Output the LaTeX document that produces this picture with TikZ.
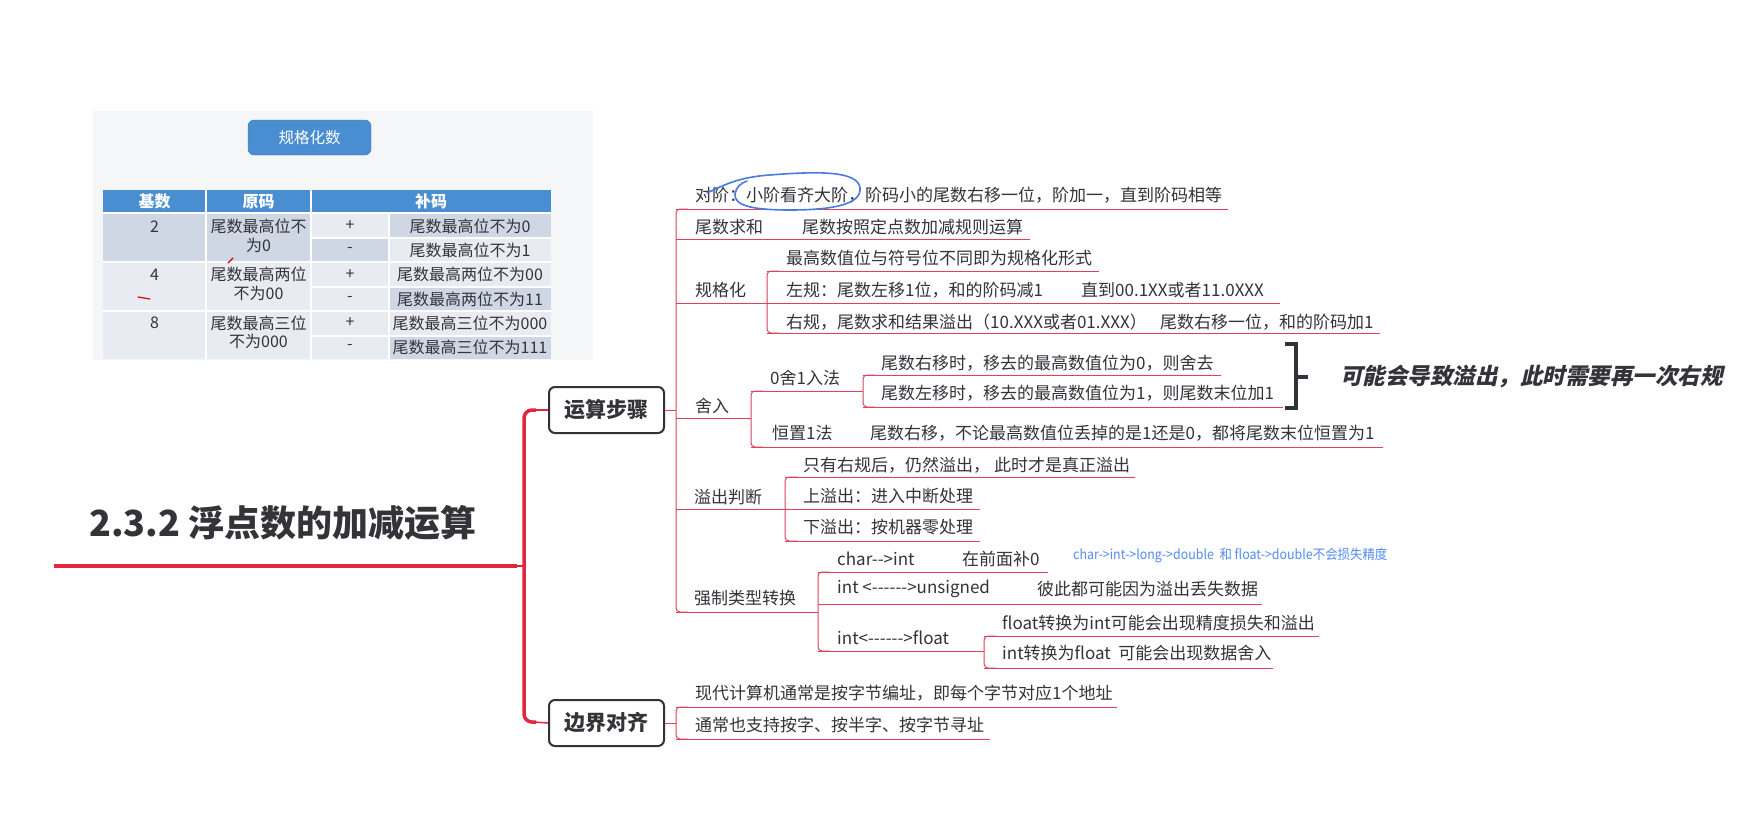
\documentclass[tikz,border=0pt]{standalone}
\usepackage{graphicx}
\usepackage{fontspec}
\setmainfont{Noto Sans CJK SC}[Ligatures=TeXOff]
\newfontfamily\slantcjk{Noto Sans CJK SC}[UprightFeatures={FakeSlant=0.22},BoldFeatures={FakeSlant=0.22}]
\definecolor{redm}{RGB}{226,38,64}
\definecolor{redl}{RGB}{222,64,94}
\definecolor{ink}{RGB}{51,51,56}
\definecolor{tblue}{RGB}{72,142,208}
\definecolor{tbord}{RGB}{58,122,186}
\definecolor{cdark}{RGB}{207,215,229}
\definecolor{clight}{RGB}{232,236,242}
\definecolor{panel}{RGB}{245,246,248}
\definecolor{notec}{RGB}{84,140,240}
\definecolor{penblue}{RGB}{72,122,226}
\definecolor{boxc}{RGB}{50,50,58}
\tikzset{
  txt/.style={anchor=west, inner sep=0pt, text=ink, font=\fontsize{17}{20}\selectfont},
  rl/.style={draw=redl, line width=1pt},
  topicbox/.style={draw=boxc, line width=2pt, rounded corners=6pt, fill=white,
    minimum width=115pt, minimum height=46pt, inner sep=0pt, text=ink,
    font=\fontsize{21}{24}\selectfont\bfseries},
  tcell/.style={anchor=center, inner sep=0pt, align=center, text=ink,
    font=\fontsize{16}{18.5}\selectfont},
  thead/.style={anchor=center, inner sep=0pt, text=white,
    font=\fontsize{16}{18}\selectfont\bfseries},
  grid/.style={draw=white, line width=1.5pt},
}
\begin{document}
\begin{tikzpicture}[x=1pt,y=-1pt]
\useasboundingbox (0,0) rectangle (1754,817);
\fill[white] (0,0) rectangle (1754,817);

% ---------- table picture ----------
\fill[panel] (93,111) rectangle (593,360);
\node[draw=tbord, fill=tblue, rounded corners=6pt, minimum width=123pt, minimum height=35pt,
  inner sep=0pt, text=white, font=\fontsize{15.5}{18}\selectfont] (btn) at (309.5,137.5) {规格化数};
\fill[tblue] (103,190) rectangle (551,213);
% body fills
\fill[cdark] (103,213) rectangle (311,262);
\fill[clight] (103,262) rectangle (311,359);
\fill[clight] (311,213) rectangle (389,238);
\fill[cdark] (311,238) rectangle (389,262);
\fill[clight] (311,262) rectangle (389,359);
\fill[cdark] (389,213) rectangle (551,238);
\fill[clight] (389,238) rectangle (551,287);
\fill[cdark] (389,287) rectangle (551,311);
\fill[clight] (389,311) rectangle (551,336);
\fill[cdark] (389,336) rectangle (551,359);
% grid
\draw[grid] (206,190) -- (206,359);
\draw[grid] (311,190) -- (311,359);
\draw[grid] (389,213) -- (389,359);
\draw[grid] (103,213) -- (551,213);
\draw[grid] (103,262) -- (551,262);
\draw[grid] (103,311) -- (551,311);
\draw[grid] (311,238) -- (551,238);
\draw[grid] (311,287) -- (551,287);
\draw[grid] (311,336) -- (551,336);
% header text
\node[thead] (h1) at (154.5,201.5) {基数};
\node[thead] (h2) at (258.5,201.5) {原码};
\node[thead] (h3) at (431,201.5) {补码};
% body text
\node[tcell] (r2) at (154.5,227) {2};
\node[tcell] (r4) at (154.5,275) {4};
\node[tcell] (r8) at (154.5,323) {8};
\node[tcell] (y2) at (258.5,236) {尾数最高位不\\为0};
\node[tcell] (y4) at (258.5,284) {尾数最高两位\\不为00};
\node[tcell] (y8) at (258.5,332.5) {尾数最高三位\\不为000};
\node[tcell] (s1) at (350,226) {+};
\node[tcell] (s2) at (350,250) {-};
\node[tcell] (s3) at (350,274.5) {+};
\node[tcell] (s4) at (350,299) {-};
\node[tcell] (s5) at (350,323) {+};
\node[tcell] (s6) at (350,347) {-};
\node[tcell] (b1) at (470,226) {尾数最高位不为0};
\node[tcell] (b2) at (470,250) {尾数最高位不为1};
\node[tcell] (b3) at (470,274.5) {尾数最高两位不为00};
\node[tcell] (b4) at (470,299) {尾数最高两位不为11};
\node[tcell] (b5) at (470,323) {尾数最高三位不为000};
\node[tcell] (b6) at (470,347) {尾数最高三位不为111};
% red pen marks
\draw[red!80!black, line width=1.1pt, line cap=round] (233,258) -- (228,263);
\draw[red!85!black, line width=1.2pt, line cap=round] (138,297) -- (150,299);

% ---------- central topic ----------
\node[anchor=west, inner sep=0pt, text=ink, font=\fontsize{36}{40}\selectfont\bfseries] (title) at (89,523) {2.3.2 浮点数的加减运算};
\coordinate (tl0) at (54,566);
\coordinate (tl1) at (517,566);
\coordinate (barj) at (524,566);
\draw[redm, line width=4.5pt] (tl0) -- (tl1);
\draw[redm, line width=1.5pt] (tl1) -- (barj);
\draw[redm, line width=3.5pt, rounded corners=8pt] (536,410) -- (524,410) -- (524,722) -- (536,722);

\node[topicbox] (ops) at (606.5,410) {运算步骤};
\node[topicbox] (bnd) at (606.5,723) {边界对齐};
\draw[redm, line width=1.5pt] (534,410) -- (ops.west);
\draw[redm, line width=1.5pt] (534,722) -- (bnd.west);

% ---------- 运算步骤 branch ----------
\coordinate (opsj) at (676,410);
\draw[rl] (ops.east) -- (opsj);
\draw[rl, rounded corners=4pt] (688,209) -- (676,209) -- (676,612) -- (688,612);

% 对阶
\node[txt] (dj) at (695,195) {对阶：小阶看齐大阶，阶码小的尾数右移一位，阶加一，直到阶码相等};
\draw[rl] (676,209) -- (1228,209);
\draw[penblue, line width=1.6pt, line cap=round, line join=round]
  (707,193) .. controls (722,186) and (738,177) .. (770,175)
  .. controls (820,171) and (858,171) .. (860,188)
  .. controls (862,205) and (830,210) .. (790,210)
  .. controls (750,210) and (734,205) .. (735,194)
  .. controls (736,187) and (741,183) .. (747,181);

% 尾数求和
\node[txt] (wsqh) at (695,227) {尾数求和};
\node[txt] (wsqh1) at (802,227) {尾数按照定点数加减规则运算};
\draw[rl] (676,239) -- (1030,239);

% 规格化
\node[txt] (ggh) at (695,290) {规格化};
\draw[rl] (676,303) -- (767,303);
\draw[rl, rounded corners=4pt] (779,271) -- (767,271) -- (767,333) -- (779,333);
\node[txt] (ggh1) at (786,258) {最高数值位与符号位不同即为规格化形式};
\draw[rl] (767,271) -- (1099,271);
\node[txt] (ggh2) at (786,290) {左规：尾数左移1位，和的阶码减1};
\node[txt] (ggh2a) at (1081,290) {直到00.1XX或者11.0XXX};
\draw[rl] (767,303) -- (1280,303);
\node[txt] (ggh3) at (786,322) {右规，尾数求和结果溢出（10.XXX或者01.XXX）};
\node[txt] (ggh3a) at (1160,322) {尾数右移一位，和的阶码加1};
\draw[rl] (767,333) -- (1380,333);

% 舍入
\node[txt] (sr) at (695,406) {舍入};
\draw[rl] (676,418) -- (751,418);
\draw[rl, rounded corners=4pt] (763,391) -- (751,391) -- (751,447) -- (763,447);
\node[txt] (sr1) at (770,378) {0舍1入法};
\draw[rl] (751,391) -- (863,391);
\draw[rl, rounded corners=4pt] (875,375) -- (863,375) -- (863,407) -- (875,407);
\node[txt] (sr1a) at (881,363) {尾数右移时，移去的最高数值位为0，则舍去};
\draw[rl] (863,375) -- (1221,375);
\node[txt] (sr1b) at (881,393) {尾数左移时，移去的最高数值位为1，则尾数末位加1};
\draw[rl] (863,407) -- (1283,407);
\node[txt] (sr2) at (772,433) {恒置1法};
\node[txt] (sr2a) at (870,433) {尾数右移，不论最高数值位丢掉的是1还是0，都将尾数末位恒置为1};
\draw[rl] (751,447) -- (1383,447);

% bracket + note
\draw[boxc, line width=3.5pt] (1285,344) -- (1296,344) -- (1296,408) -- (1285,408);
\draw[boxc, line width=3.5pt] (1296,377) -- (1308,377);
\node[anchor=west, inner sep=0pt, text=ink, font=\fontsize{22.5}{26}\slantcjk\bfseries] (warn) at (1340,377) {可能会导致溢出，此时需要再一次右规};

% 溢出判断
\node[txt] (yc) at (694,497) {溢出判断};
\draw[rl] (676,509) -- (785,509);
\draw[rl, rounded corners=4pt] (797,477) -- (785,477) -- (785,541) -- (797,541);
\node[txt] (yc1) at (803,465) {只有右规后，仍然溢出， 此时才是真正溢出};
\draw[rl] (785,477) -- (1135,477);
\node[txt] (yc2) at (803,496) {上溢出：进入中断处理};
\draw[rl] (785,509) -- (980,509);
\node[txt] (yc3) at (803,527) {下溢出：按机器零处理};
\draw[rl] (785,541) -- (980,541);

% 强制类型转换
\node[txt] (qz) at (694,598) {强制类型转换};
\draw[rl] (676,612) -- (818,612);
\draw[rl, rounded corners=4pt] (830,572) -- (818,572) -- (818,651) -- (830,651);
\node[txt] (qz1) at (837,559) {char-->int};
\node[txt] (qz1a) at (962,559) {在前面补0};
\draw[rl] (818,572) -- (1048,572);
\node[anchor=west, inner sep=0pt, text=notec, font=\fontsize{13.5}{16}\selectfont] (note) at (1073,555) {\scalebox{0.92}[1]{char->int->long->double\ \ 和 float->double不会损失精度}};
\node[txt] (qz2) at (837,589) {int <------>unsigned};
\node[txt] (qz2a) at (1037,589) {彼此都可能因为溢出丢失数据};
\draw[rl] (818,604) -- (1262,604);
\node[txt] (qz3) at (837,638) {int<------>float};
\draw[rl] (818,651) -- (984,651);
\draw[rl, rounded corners=4pt] (996,636) -- (984,636) -- (984,668) -- (996,668);
\node[txt] (qz3a) at (1002,623) {float转换为int可能会出现精度损失和溢出};
\draw[rl] (984,636) -- (1319,636);
\node[txt] (qz3b) at (1002,653) {int转换为float\ \ 可能会出现数据舍入};
\draw[rl] (984,668) -- (1273,668);

% ---------- 边界对齐 branch ----------
\coordinate (bndj) at (676,723);
\draw[rl] (bnd.east) -- (bndj);
\draw[rl, rounded corners=4pt] (688,707) -- (676,707) -- (676,739) -- (688,739);
\node[txt] (bd1) at (695,693) {现代计算机通常是按字节编址，即每个字节对应1个地址};
\draw[rl] (676,707) -- (1117,707);
\node[txt] (bd2) at (695,725) {通常也支持按字、按半字、按字节寻址};
\draw[rl] (676,739) -- (990,739);
\end{tikzpicture}
\end{document}
